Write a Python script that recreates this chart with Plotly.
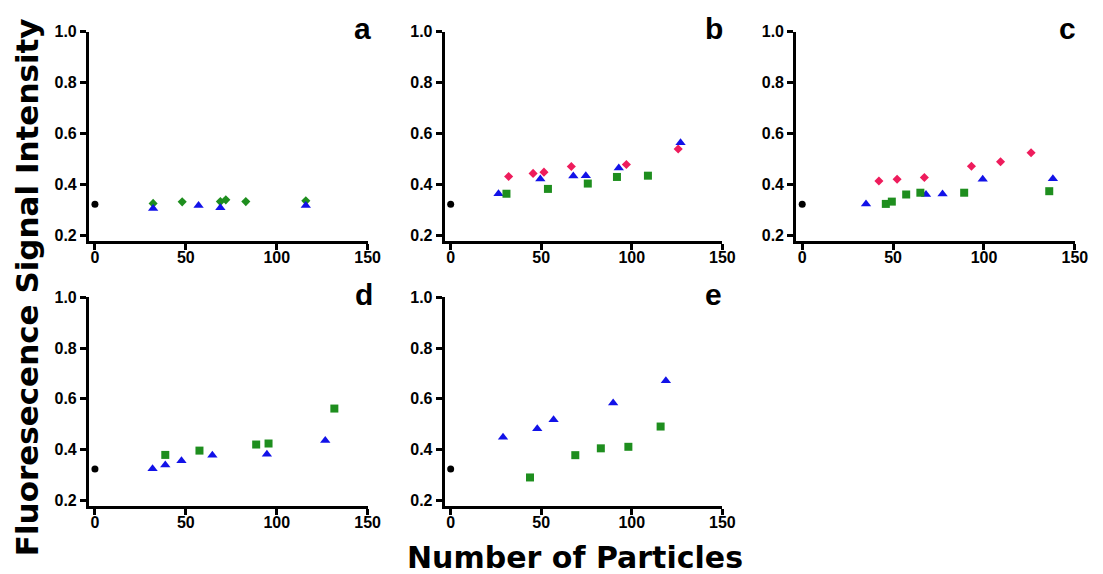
import plotly.graph_objects as go

# ---- data -------------------------------------------------------------
blank_x = [0]
blank_y = [0.322]

# panel a
a_dia_x = [32, 48, 69, 72, 83, 116]
a_dia_y = [0.325, 0.331, 0.332, 0.339, 0.332, 0.335]
a_tri_x = [32, 57, 69, 116]
a_tri_y = [0.305, 0.317, 0.308, 0.317]

# panel b
b_dia_x = [32, 45.5, 51.5, 66.6, 97, 125.6]
b_dia_y = [0.431, 0.443, 0.448, 0.470, 0.478, 0.539]
b_tri_x = [26.4, 49.5, 67.7, 74.6, 92.8, 126.9]
b_tri_y = [0.363, 0.421, 0.433, 0.434, 0.464, 0.564]
b_sq_x = [30.8, 53.7, 75.7, 91.8, 108.9]
b_sq_y = [0.363, 0.382, 0.403, 0.429, 0.434]

# panel c
c_dia_x = [42.2, 52.2, 67.2, 93.1, 109.1, 125.9]
c_dia_y = [0.413, 0.420, 0.427, 0.471, 0.489, 0.524]
c_tri_x = [35.1, 68.1, 77.2, 99.3, 137.9]
c_tri_y = [0.323, 0.360, 0.362, 0.420, 0.422]
c_sq_x = [46.0, 49.3, 57.2, 65.0, 89.1, 135.9]
c_sq_y = [0.323, 0.332, 0.360, 0.367, 0.367, 0.373]

# panel d
d_sq_x = [38.7, 57.5, 88.7, 95.5, 131.7]
d_sq_y = [0.378, 0.395, 0.419, 0.423, 0.561]
d_tri_x = [31.7, 38.7, 47.6, 64.6, 94.6, 126.7]
d_tri_y = [0.323, 0.338, 0.355, 0.377, 0.381, 0.435]

# panel e
e_tri_x = [28.9, 47.8, 56.8, 89.7, 118.8]
e_tri_y = [0.448, 0.481, 0.517, 0.583, 0.671]
e_sq_x = [43.8, 68.8, 82.9, 98.1, 115.9]
e_sq_y = [0.289, 0.377, 0.404, 0.410, 0.490]

x_ticks = [0, 50, 100, 150]
x_tick_text = ["0", "50", "100", "150"]
y_ticks = [0.2, 0.4, 0.6, 0.8, 1.0]
y_tick_text = ["0.2", "0.4", "0.6", "0.8", "1.0"]
panel_letters = ["a", "b", "c", "d", "e"]

# ---- styling ----------------------------------------------------------
BLUE = "#1212E8"
GREEN = "#1E8E1E"
PINK = "#EE1C5C"
BLACK = "#000000"
FONT = "Liberation Sans, Arial, sans-serif"
TITLE_FONT = "DejaVu Sans, Arial, sans-serif"

W, H = 1103, 574
# panel boxes in pixels: (left, right, top, bottom)
boxes = [
    (90, 372, 24.3, 237.3),
    (450, 731, 24.3, 237.3),
    (805.7, 1087.7, 24.3, 237.3),
    (90, 372, 295, 507.3),
    (450, 731, 295, 507.3),
]
# centre of each panel letter, pixels
letter_pos = [(367, 21), (723, 21), (1080, 21), (368, 292), (722, 292)]

panels = [
    [(a_dia_x, a_dia_y, "diamond", GREEN, 7), (a_tri_x, a_tri_y, "triangle-up", BLUE, 9)],
    [(b_dia_x, b_dia_y, "diamond", PINK, 7), (b_tri_x, b_tri_y, "triangle-up", BLUE, 9),
     (b_sq_x, b_sq_y, "square", GREEN, 8)],
    [(c_dia_x, c_dia_y, "diamond", PINK, 7), (c_tri_x, c_tri_y, "triangle-up", BLUE, 9),
     (c_sq_x, c_sq_y, "square", GREEN, 8)],
    [(d_sq_x, d_sq_y, "square", GREEN, 8), (d_tri_x, d_tri_y, "triangle-up", BLUE, 9)],
    [(e_tri_x, e_tri_y, "triangle-up", BLUE, 9), (e_sq_x, e_sq_y, "square", GREEN, 8)],
]


def bold(s):
    return "<b>" + s + "</b>"


fig = go.Figure()
layout = {}
annotations = []

for i, (box, series) in enumerate(zip(boxes, panels)):
    n = "" if i == 0 else str(i + 1)
    xa, ya = "x" + n, "y" + n
    left, right, top, bottom = box
    traces = [(blank_x, blank_y, "circle", BLACK, 7)] + series
    for xs, ys, sym, col, sz in traces:
        fig.add_trace(go.Scatter(
            x=xs, y=ys, mode="markers", xaxis=xa, yaxis=ya, showlegend=False,
            marker=dict(symbol=sym, color=col, size=sz, line=dict(width=0)),
            cliponaxis=False,
        ))
    common = dict(
        showgrid=False, zeroline=False, showline=True, linecolor="black",
        linewidth=3, ticks="outside", ticklen=6, tickwidth=2.5, tickcolor="black",
        tickfont=dict(family=FONT, size=16, color="black"),
    )
    layout["xaxis" + n] = dict(
        common, domain=[left / W, right / W], anchor=ya,
        range=[-3.3, 150], tickvals=x_ticks, ticktext=[bold(t) for t in x_tick_text],
        ticklabelstandoff=-6,
    )
    layout["yaxis" + n] = dict(
        common, domain=[1 - bottom / H, 1 - top / H], anchor=xa,
        range=[0.178, 1.0], tickvals=y_ticks, ticktext=[bold(t) for t in y_tick_text],
    )
    lx, ly = letter_pos[i]
    annotations.append(dict(
        text=bold(panel_letters[i]), xref="paper", yref="paper",
        x=lx / W, y=1 - ly / H, xanchor="center", yanchor="middle",
        showarrow=False, font=dict(family=FONT, size=30, color="black"),
    ))

annotations.append(dict(
    text=bold("Fluoresecence Signal Intensity"), xref="paper", yref="paper",
    x=27 / W, y=1 - 285 / H, textangle=-90, showarrow=False,
    xanchor="center", yanchor="middle",
    font=dict(family=TITLE_FONT, size=31, color="black"),
))
annotations.append(dict(
    text=bold("Number of Particles"), xref="paper", yref="paper",
    x=582 / W, y=1 - 560 / H, showarrow=False,
    xanchor="center", yanchor="middle",
    font=dict(family=TITLE_FONT, size=30, color="black"),
))

fig.update_layout(
    width=W, height=H, margin=dict(l=0, r=0, t=0, b=0),
    paper_bgcolor="white", plot_bgcolor="white",
    annotations=annotations, **layout,
)

fig.write_html("out.html")
